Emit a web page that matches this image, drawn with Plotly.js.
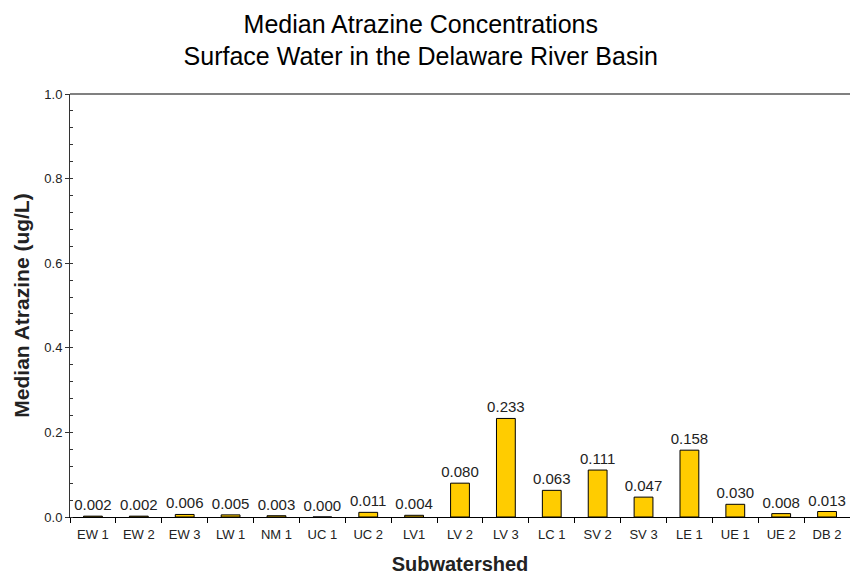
<!DOCTYPE html>
<html>
<head>
<meta charset="utf-8">
<script src="https://cdn.plot.ly/plotly-3.0.1.min.js"></script>
<style>html,body{margin:0;padding:0;background:#fff}#chart{width:850px;height:576px}</style>
</head>
<body>
<div id="chart"></div>
<script>
const categories = ["EW 1","EW 2","EW 3","LW 1","NM 1","UC 1","UC 2","LV1","LV 2","LV 3","LC 1","SV 2","SV 3","LE 1","UE 1","UE 2","DB 2"];
const medianAtrazine = [0.002,0.002,0.006,0.005,0.003,0.000,0.011,0.004,0.080,0.233,0.063,0.111,0.047,0.158,0.030,0.008,0.013];

const font = "Arial, 'Liberation Sans', sans-serif";

const trace = {
  type: 'bar',
  x: categories,
  y: medianAtrazine,
  width: 0.41,
  marker: {color: '#FFCC00', line: {color: '#000000', width: 1}},
  texttemplate: '%{y:.3f}',
  textposition: 'outside',
  constraintext: 'none',
  cliponaxis: false,
  textfont: {family: font, size: 15, color: '#222'},
  hoverinfo: 'x+y'
};

const layout = {
  width: 850, height: 576,
  margin: {l: 70, r: 0, t: 94, b: 59},
  paper_bgcolor: '#fff', plot_bgcolor: '#fff',
  showlegend: false,
  title: {
    text: 'Median Atrazine Concentrations<br>Surface Water in the Delaware River Basin',
    font: {family: font, size: 25, color: '#000'},
    x: 0.495, xanchor: 'center', y: 0.943, yanchor: 'top'
  },
  xaxis: {
    type: 'category',
    range: [-0.5, 16.5],
    showgrid: false,
    zeroline: false,
    showline: true, linecolor: '#000', linewidth: 1,
    ticks: 'outside', ticklen: 5, tickcolor: '#000', tickson: 'boundaries',
    ticklabelstandoff: 5,
    tickfont: {family: font, size: 13, color: '#222'},
    title: {text: 'Subwatershed', font: {family: font, size: 20, color: '#222', weight: 'bold'}, standoff: 16}
  },
  yaxis: {
    range: [0, 1.0],
    dtick: 0.2, tick0: 0,
    tickformat: '.1f',
    showgrid: false,
    zeroline: false,
    showline: true, linecolor: '#333', linewidth: 1,
    ticks: 'outside', ticklen: 4, tickcolor: '#333',
    minor: {dtick: 0.04, ticks: 'inside', ticklen: 3, tickcolor: '#333', showgrid: false},
    tickfont: {family: font, size: 13, color: '#222'},
    title: {text: 'Median Atrazine (ug/L)', font: {family: font, size: 21, color: '#222', weight: 'bold'}, standoff: 8}
  },
  shapes: [{
    type: 'line', xref: 'paper', yref: 'paper',
    x0: 0, x1: 1, y0: 1, y1: 1,
    line: {color: '#808080', width: 2}
  }]
};

Plotly.newPlot('chart', [trace], layout, {displayModeBar: false, staticPlot: true});
</script>
</body>
</html>
